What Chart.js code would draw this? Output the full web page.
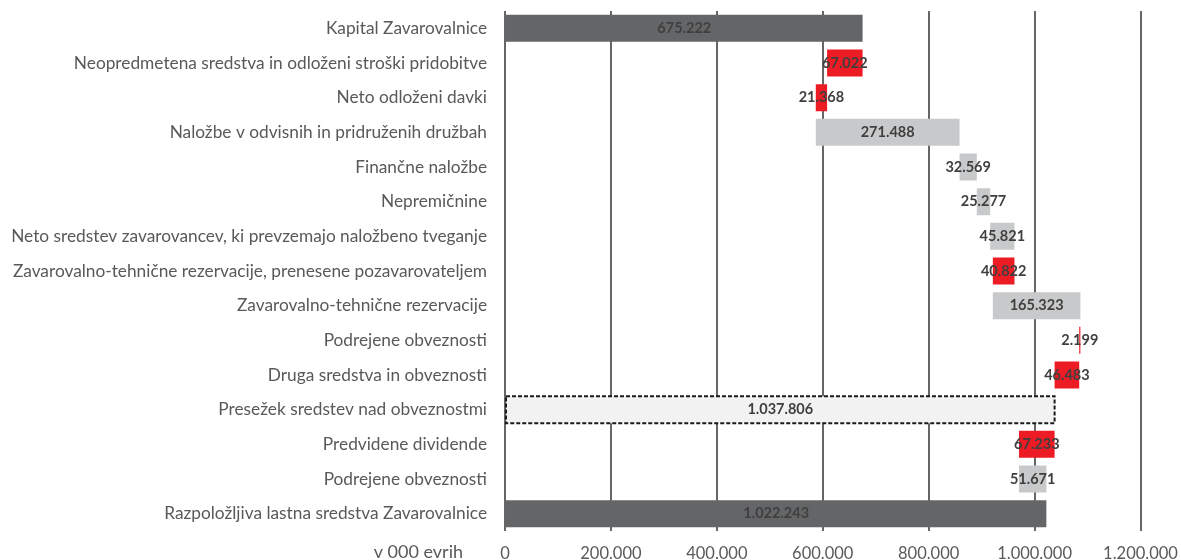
<!DOCTYPE html>
<html lang="sl">
<head>
    <meta charset="UTF-8">
    <title>Razpoložljiva lastna sredstva Zavarovalnice</title>
    <script src="https://cdn.jsdelivr.net/npm/chart.js@4.4.1/dist/chart.umd.min.js"></script>
    <style>
        body {
            margin: 0;
            background-color: #fff;
        }
        .chart-container {
            position: relative;
            width: 1181px;
            height: 560px;
        }
    </style>
</head>
<body>
    <div class="chart-container">
        <canvas id="myChart"></canvas>
    </div>

    <script>
        // podatki (v 000 evrih)
        const kategorije = [
            'Kapital Zavarovalnice',
            'Neopredmetena sredstva in odloženi stroški pridobitve',
            'Neto odloženi davki',
            'Naložbe v odvisnih in pridruženih družbah',
            'Finančne naložbe',
            'Nepremičnine',
            'Neto sredstev zavarovancev, ki prevzemajo naložbeno tveganje',
            'Zavarovalno-tehnične rezervacije, prenesene pozavarovateljem',
            'Zavarovalno-tehnične rezervacije',
            'Podrejene obveznosti',
            'Druga sredstva in obveznosti',
            'Presežek sredstev nad obveznostmi',
            'Predvidene dividende',
            'Podrejene obveznosti',
            'Razpoložljiva lastna sredstva Zavarovalnice'
        ];
        const vrednosti = [675222, -67022, -21368, 271488, 32569, 25277, 45821, -40822, 165323, -2199, -46483, 1037806, -67233, 51671, 1022243];
        // skupaj = temni stolpec od 0, vmesni = črtkan okvir od 0, sprememba = premik
        const vrste = ['skupaj', 'sprememba', 'sprememba', 'sprememba', 'sprememba', 'sprememba', 'sprememba', 'sprememba',
            'sprememba', 'sprememba', 'sprememba', 'vmesni', 'sprememba', 'sprememba', 'skupaj'];
        const xTicks = [0, 200000, 400000, 600000, 800000, 1000000, 1200000];

        function oblikuj(n) {
            return String(Math.round(n)).replace(/\B(?=(\d{3})+(?!\d))/g, '.');
        }

        // razponi stolpcev za slap
        let tekoce = 0;
        const razponi = vrednosti.map((v, i) => {
            if (vrste[i] !== 'sprememba') {
                tekoce = v;
                return [0, v];
            }
            const r = [tekoce, tekoce + v];
            tekoce += v;
            return r;
        });

        const barve = vrednosti.map((v, i) => {
            if (vrste[i] === 'skupaj') return '#646567';
            if (vrste[i] === 'vmesni') return '#f2f2f2';
            return v < 0 ? '#ed1c24' : '#c8c9ca';
        });

        const oznakePlugin = {
            id: 'oznake',
            afterDatasetsDraw(chart) {
                const ctx = chart.ctx;
                const meta = chart.getDatasetMeta(0);
                ctx.save();
                meta.data.forEach((bar, i) => {
                    const left = Math.min(bar.x, bar.base);
                    const right = Math.max(bar.x, bar.base);
                    if (vrste[i] === 'vmesni') {
                        ctx.setLineDash([4, 2]);
                        ctx.lineWidth = 2;
                        ctx.strokeStyle = '#1a1a1a';
                        ctx.strokeRect(left, bar.y - bar.height / 2, right - left, bar.height);
                        ctx.setLineDash([]);
                    }
                    ctx.font = 'bold 14.5px Lato';
                    ctx.fillStyle = '#3f3f3f';
                    ctx.textAlign = 'center';
                    ctx.textBaseline = 'middle';
                    ctx.fillText(oblikuj(Math.abs(vrednosti[i])), (left + right) / 2, bar.y);
                });
                // enota ob osi
                ctx.font = '18px Lato';
                ctx.fillStyle = '#595959';
                ctx.textAlign = 'right';
                ctx.textBaseline = 'middle';
                ctx.fillText('v 000 evrih', chart.chartArea.left - 42, chart.chartArea.bottom + 21);
                ctx.restore();
            }
        };

        const ctx = document.getElementById('myChart').getContext('2d');
        new Chart(ctx, {
            type: 'bar',
            data: {
                labels: kategorije,
                datasets: [{
                    data: razponi,
                    backgroundColor: barve,
                    borderWidth: 0,
                    categoryPercentage: 1,
                    barPercentage: 0.78
                }]
            },
            options: {
                indexAxis: 'y',
                responsive: true,
                maintainAspectRatio: false,
                animation: false,
                layout: {
                    padding: { top: 11, right: 40.5, left: 0, bottom: 0 }
                },
                plugins: {
                    legend: { display: false },
                    tooltip: { enabled: false }
                },
                scales: {
                    x: {
                        min: 0,
                        max: 1200000,
                        afterBuildTicks: (scale) => {
                            scale.ticks = xTicks.map(v => ({ value: v }));
                        },
                        afterFit: (scale) => {
                            scale.height = 29;
                            scale.paddingLeft = 0;
                            scale.paddingRight = 0;
                        },
                        grid: {
                            color: '#666666',
                            lineWidth: 2,
                            drawTicks: false
                        },
                        border: { display: false },
                        ticks: {
                            padding: 13,
                            color: '#595959',
                            font: { family: 'Lato', size: 16.5 },
                            callback: (v) => oblikuj(v)
                        }
                    },
                    y: {
                        afterFit: (scale) => {
                            scale.width = 505;
                            scale.paddingTop = 0;
                            scale.paddingBottom = 0;
                        },
                        grid: { display: false, drawTicks: false },
                        border: { display: false },
                        ticks: {
                            padding: 18,
                            color: '#595959',
                            font: { family: 'Lato', size: 17.3 }
                        }
                    }
                }
            },
            plugins: [oznakePlugin]
        });
    </script>
</body>
</html>
